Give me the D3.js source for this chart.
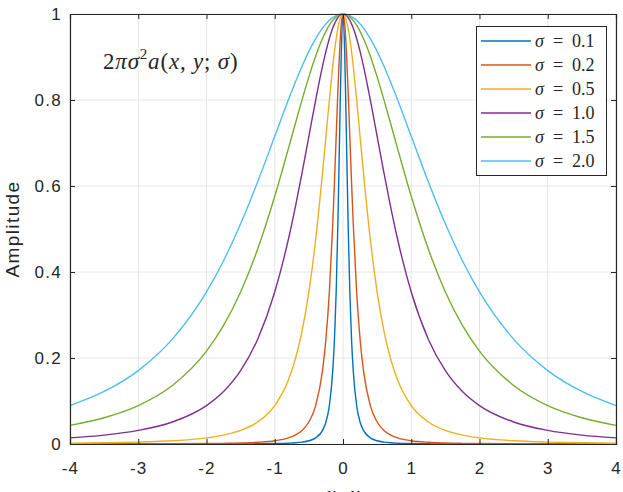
<!DOCTYPE html>
<html>
<head>
<meta charset="UTF-8">
<title>Amplitude</title>
<script src="https://cdn.jsdelivr.net/npm/d3@7"></script>
<style>
  body { margin: 0; background: #fff; }
  svg { display: block; }
  .tick text { font-family: "Liberation Sans", Arial, sans-serif; font-size: 17px; letter-spacing: 1.3px; fill: #262626; }
  text { white-space: pre; }
</style>
</head>
<body>
<script>
// sample positions along x
var xs = [-4, -3.5, -3, -2.5, -2, -1.75, -1.5, -1.25, -1, -0.8, -0.7, -0.6, -0.5, -0.4, -0.3, -0.25, -0.2, -0.15, -0.125, -0.1, -0.075, -0.05, -0.025,
  0, 0.025, 0.05, 0.075, 0.1, 0.125, 0.15, 0.2, 0.25, 0.3, 0.4, 0.5, 0.6, 0.7, 0.8, 1, 1.25, 1.5, 1.75, 2, 2.5, 3, 3.5, 4];

// amplitude values read per sigma
var s01 = [0, 0, 0, 0.0001, 0.0001, 0.0002, 0.0003, 0.0005, 0.001, 0.0019, 0.0028, 0.0044, 0.0075, 0.0143, 0.0316, 0.0512, 0.0894, 0.1707, 0.2438, 0.3536, 0.512, 0.7155, 0.9131,
  1, 0.9131, 0.7155, 0.512, 0.3536, 0.2438, 0.1707, 0.0894, 0.0512, 0.0316, 0.0143, 0.0075, 0.0044, 0.0028, 0.0019, 0.001, 0.0005, 0.0003, 0.0002, 0.0001, 0.0001, 0, 0, 0];
var s02 = [0.0001, 0.0002, 0.0003, 0.0005, 0.001, 0.0015, 0.0023, 0.0039, 0.0075, 0.0143, 0.0207, 0.0316, 0.0512, 0.0894, 0.1707, 0.2438, 0.3536, 0.512, 0.6098, 0.7155, 0.8209, 0.9131, 0.977,
  1, 0.977, 0.9131, 0.8209, 0.7155, 0.6098, 0.512, 0.3536, 0.2438, 0.1707, 0.0894, 0.0512, 0.0316, 0.0207, 0.0143, 0.0075, 0.0039, 0.0023, 0.0015, 0.001, 0.0005, 0.0003, 0.0002, 0.0001];
var s05 = [0.0019, 0.0028, 0.0044, 0.0075, 0.0143, 0.0207, 0.0316, 0.0512, 0.0894, 0.1489, 0.1964, 0.2624, 0.3536, 0.4761, 0.6305, 0.7155, 0.8004, 0.8787, 0.9131, 0.9429, 0.9672, 0.9852, 0.9963,
  1, 0.9963, 0.9852, 0.9672, 0.9429, 0.9131, 0.8787, 0.8004, 0.7155, 0.6305, 0.4761, 0.3536, 0.2624, 0.1964, 0.1489, 0.0894, 0.0512, 0.0316, 0.0207, 0.0143, 0.0075, 0.0044, 0.0028, 0.0019];
var s10 = [0.0143, 0.0207, 0.0316, 0.0512, 0.0894, 0.1221, 0.1707, 0.2438, 0.3536, 0.4761, 0.5498, 0.6305, 0.7155, 0.8004, 0.8787, 0.9131, 0.9429, 0.9672, 0.977, 0.9852, 0.9916, 0.9963, 0.9991,
  1, 0.9991, 0.9963, 0.9916, 0.9852, 0.977, 0.9672, 0.9429, 0.9131, 0.8787, 0.8004, 0.7155, 0.6305, 0.5498, 0.4761, 0.3536, 0.2438, 0.1707, 0.1221, 0.0894, 0.0512, 0.0316, 0.0207, 0.0143];
var s15 = [0.0433, 0.0611, 0.0894, 0.1362, 0.216, 0.2757, 0.3536, 0.4534, 0.576, 0.687, 0.7441, 0.8004, 0.8538, 0.9021, 0.9429, 0.9597, 0.9739, 0.9852, 0.9897, 0.9934, 0.9963, 0.9983, 0.9996,
  1, 0.9996, 0.9983, 0.9963, 0.9934, 0.9897, 0.9852, 0.9739, 0.9597, 0.9429, 0.9021, 0.8538, 0.8004, 0.7441, 0.687, 0.576, 0.4534, 0.3536, 0.2757, 0.216, 0.1362, 0.0894, 0.0611, 0.0433];
var s20 = [0.0894, 0.1221, 0.1707, 0.2438, 0.3536, 0.4262, 0.512, 0.6098, 0.7155, 0.8004, 0.8408, 0.8787, 0.9131, 0.9429, 0.9672, 0.977, 0.9852, 0.9916, 0.9942, 0.9963, 0.9979, 0.9991, 0.9998,
  1, 0.9998, 0.9991, 0.9979, 0.9963, 0.9942, 0.9916, 0.9852, 0.977, 0.9672, 0.9429, 0.9131, 0.8787, 0.8408, 0.8004, 0.7155, 0.6098, 0.512, 0.4262, 0.3536, 0.2438, 0.1707, 0.1221, 0.0894];

var sigmaLabels = ["0.1", "0.2", "0.5", "1.0", "1.5", "2.0"];
var colors = ["#0072BD", "#D95319", "#EDB120", "#7E2F8E", "#77AC30", "#4DBEEE"];
var xTicks = [-4, -3, -2, -1, 0, 1, 2, 3, 4];
var yTicks = [0, 0.2, 0.4, 0.6, 0.8, 1];

var series = [s01, s02, s05, s10, s15, s20];

var W = 623, H = 492;
var mLeft = 70, mRight = 616, mTop = 14, mBottom = 444;

var svg = d3.select("body").append("svg").attr("width", W).attr("height", H);

var x = d3.scaleLinear().domain([-4, 4]).range([mLeft, mRight]);
var y = d3.scaleLinear().domain([0, 1]).range([mBottom, mTop]);

// grid
svg.append("g").selectAll("line").data(xTicks).enter().append("line")
  .attr("x1", function(d) { return x(d); }).attr("x2", function(d) { return x(d); })
  .attr("y1", mTop).attr("y2", mBottom)
  .attr("stroke", "#e6e6e6").attr("stroke-width", 1);
svg.append("g").selectAll("line").data(yTicks).enter().append("line")
  .attr("y1", function(d) { return y(d); }).attr("y2", function(d) { return y(d); })
  .attr("x1", mLeft).attr("x2", mRight)
  .attr("stroke", "#e6e6e6").attr("stroke-width", 1);

// curves
var line = d3.line()
  .x(function(d) { return x(d[0]); })
  .y(function(d) { return y(d[1]); })
  .curve(d3.curveMonotoneX);

series.forEach(function(s, i) {
  svg.append("path")
    .datum(xs.map(function(v, j) { return [v, s[j]]; }))
    .attr("d", line)
    .attr("fill", "none")
    .attr("stroke", colors[i])
    .attr("stroke-width", 1.4);
});

// axes, inward ticks on all sides
var fmt = function(d) { return String(d); };
var gx = svg.append("g").attr("transform", "translate(0," + mBottom + ")")
  .call(d3.axisBottom(x).tickValues(xTicks).tickSize(-5).tickPadding(18).tickFormat(fmt));
var gy = svg.append("g").attr("transform", "translate(" + mLeft + ",0)")
  .call(d3.axisLeft(y).tickValues(yTicks).tickSize(-5).tickPadding(8).tickFormat(fmt));
var gt = svg.append("g").attr("transform", "translate(0," + mTop + ")")
  .call(d3.axisTop(x).tickValues(xTicks).tickSize(-5).tickFormat(""));
var gr = svg.append("g").attr("transform", "translate(" + mRight + ",0)")
  .call(d3.axisRight(y).tickValues(yTicks).tickSize(-5).tickFormat(""));

[gx, gy, gt, gr].forEach(function(g) {
  g.select(".domain").attr("stroke", "#262626").attr("stroke-width", 1.2);
  g.selectAll(".tick line").attr("stroke", "#262626");
});

// y label
svg.append("text")
  .attr("transform", "translate(19," + (mTop + mBottom) / 2 + ") rotate(-90)")
  .attr("text-anchor", "middle")
  .attr("font-family", "Liberation Sans, Arial, sans-serif")
  .attr("font-size", 19)
  .attr("letter-spacing", 1.4)
  .attr("fill", "#262626")
  .text("Amplitude");

// x label (mostly cut off at the bottom)
var xl = svg.append("text")
  .attr("x", x(0)).attr("y", 501)
  .attr("text-anchor", "middle")
  .attr("font-family", "Liberation Serif, serif")
  .attr("font-size", 20)
  .attr("fill", "#262626");
xl.append("tspan").attr("font-style", "italic").text("x");
xl.append("tspan").text(",  ");
xl.append("tspan").attr("font-style", "italic").text("y");

// formula annotation
var ann = svg.append("text")
  .attr("x", 103).attr("y", 69)
  .attr("font-family", "Liberation Serif, serif")
  .attr("font-size", 23)
  .attr("letter-spacing", 0.8)
  .attr("fill", "#262626");
ann.append("tspan").text("2");
ann.append("tspan").attr("font-style", "italic").text("πσ");
ann.append("tspan").attr("font-size", 15).attr("dy", -10).text("2");
ann.append("tspan").attr("font-style", "italic").attr("dy", 10).text("a");
ann.append("tspan").text("(");
ann.append("tspan").attr("font-style", "italic").text("x");
ann.append("tspan").text(", ");
ann.append("tspan").attr("font-style", "italic").text("y");
ann.append("tspan").text("; ");
ann.append("tspan").attr("font-style", "italic").text("σ");
ann.append("tspan").text(")");

// legend
var lg = svg.append("g");
lg.append("rect")
  .attr("x", 476.5).attr("y", 26.5).attr("width", 130).attr("height", 149)
  .attr("fill", "#fff").attr("stroke", "#262626").attr("stroke-width", 1);
sigmaLabels.forEach(function(lab, i) {
  var yy = 41 + i * 24;
  lg.append("line")
    .attr("x1", 481).attr("x2", 531).attr("y1", yy).attr("y2", yy)
    .attr("stroke", colors[i]).attr("stroke-width", 1.4);
  var t = lg.append("text")
    .attr("x", 535).attr("y", yy + 6)
    .attr("font-family", "Liberation Serif, serif")
    .attr("font-size", 18)
    .attr("fill", "#262626");
  t.append("tspan").attr("font-style", "italic").text("σ");
  t.append("tspan").text("  =  " + lab);
});
</script>
</body>
</html>
